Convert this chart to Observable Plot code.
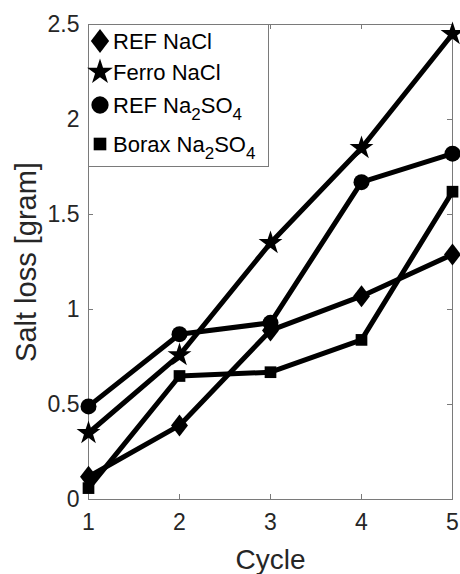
<!DOCTYPE html>
<html><head><meta charset="utf-8">
<script src="https://cdn.jsdelivr.net/npm/d3@7"></script>
<script src="https://cdn.jsdelivr.net/npm/@observablehq/plot@0.6"></script>
<style>html,body{margin:0;padding:0;background:#fff;}</style>
</head><body><div id="chart"></div>
<script>
// ---- data ----
const cycles = [1, 2, 3, 4, 5];
const refNaCl = [0.12, 0.39, 0.89, 1.07, 1.29];
const ferroNaCl = [0.35, 0.76, 1.35, 1.85, 2.45];
const refNa2SO4 = [0.49, 0.87, 0.93, 1.67, 1.82];
const boraxNa2SO4 = [0.06, 0.65, 0.67, 0.84, 1.62];
const seriesNames = ["REF NaCl", "Ferro NaCl", "REF Na2SO4", "Borax Na2SO4"];
const seriesSymbols = ["diamond", "star", "circle", "square"];
const xTicks = [1, 2, 3, 4, 5];
const xTickLabels = ["1", "2", "3", "4", "5"];
const yTicks = [0, 0.5, 1, 1.5, 2, 2.5];
const yTickLabels = ["0", "0.5", "1", "1.5", "2", "2.5"];
const xLabel = "Cycle";
const yLabel = "Salt loss [gram]";

// ---- styling ----
const W = 460, H = 574;
const M = {left: 88, right: 8, top: 24, bottom: 75};
const frameW = W - M.left - M.right, frameH = H - M.top - M.bottom;
const textColor = "#262626";
const axisColor = "#7a7a7a";
const font = "'Liberation Sans', Arial, Helvetica, sans-serif";
const symbolR = {diamond: 7.5, star: 7.5, circle: 8, square: 6.6};
const tickLen = 5;

// MATLAB-like diamond (wider than d3's)
const wideDiamond = {
  draw(context, size) {
    const r = Math.sqrt(size / Math.PI);
    const h = 1.47 * r, w = 1.13 * r;
    context.moveTo(0, -h); context.lineTo(w, 0); context.lineTo(0, h); context.lineTo(-w, 0); context.closePath();
  }
};
const symbolMap = {diamond: wideDiamond, star: d3.symbolStar, circle: d3.symbolCircle, square: d3.symbolSquare};

const allValues = [refNaCl, ferroNaCl, refNa2SO4, boraxNa2SO4];
const series = seriesNames.map((name, i) => ({
  name, symbol: seriesSymbols[i],
  data: cycles.map((c, j) => ({cycle: c, value: allValues[i][j], name}))
}));

const marks = [
  Plot.frame({stroke: axisColor, strokeWidth: 1}),
  // inward ticks on all four sides
  Plot.tickX(xTicks, {x: d => d, stroke: axisColor, insetTop: frameH - tickLen}),
  Plot.tickX(xTicks, {x: d => d, stroke: axisColor, insetBottom: frameH - tickLen}),
  Plot.tickY(yTicks, {y: d => d, stroke: axisColor, insetRight: frameW - tickLen}),
  Plot.tickY(yTicks, {y: d => d, stroke: axisColor, insetLeft: frameW - tickLen}),
  Plot.axisX({ticks: xTicks, tickSize: 0, tickPadding: 14, label: null, fontSize: 23, fill: textColor,
              tickFormat: d => xTickLabels[xTicks.indexOf(d)]}),
  Plot.axisY({ticks: yTicks, tickSize: 0, tickPadding: 9, label: null, fontSize: 23, fill: textColor,
              tickFormat: d => yTickLabels[yTicks.indexOf(d)]}),
  Plot.text([xLabel], {frameAnchor: "bottom", dy: 69, lineAnchor: "bottom", textAnchor: "middle", fontSize: 28, fill: textColor}),
  Plot.text([yLabel], {frameAnchor: "left", dx: -62, rotate: -90, lineAnchor: "middle", textAnchor: "middle", fontSize: 29, fill: textColor})
];
for (const s of series) {
  marks.push(Plot.line(s.data, {x: "cycle", y: "value", stroke: "black", strokeWidth: 5, strokeLinejoin: "miter"}));
  marks.push(Plot.dot(s.data, {x: "cycle", y: "value", symbol: () => symbolMap[s.symbol], fill: "black", stroke: "none", r: symbolR[s.symbol]}));
}

const chart = Plot.plot({
  width: W, height: H,
  marginLeft: M.left, marginRight: M.right, marginTop: M.top, marginBottom: M.bottom,
  style: {fontFamily: font, color: textColor, background: "white"},
  x: {domain: [1, 5]},
  y: {domain: [0, 2.5]},
  symbol: {type: "identity"},
  marks
});
document.getElementById("chart").appendChild(chart);

// ---- legend (inside plot, top-left) ----
const svg = d3.select(chart);
const lg = svg.append("g").attr("font-family", font).attr("fill", "black").attr("text-anchor", "start");
lg.append("rect").attr("x", M.left + 0.5).attr("y", M.top + 0.5).attr("width", 180).attr("height", 142)
  .attr("fill", "white").attr("stroke", axisColor).attr("stroke-width", 1);
const rowCenters = [41, 72, 105, 144];
series.forEach((s, i) => {
  const cy = rowCenters[i];
  const r = symbolR[s.symbol] * 1.08;
  lg.append("path").attr("transform", `translate(${M.left + 12},${cy})`)
    .attr("d", d3.symbol(symbolMap[s.symbol], Math.PI * r * r)());
  const t = lg.append("text").attr("x", M.left + 25).attr("y", cy + 8).attr("font-size", 22)
    .attr("text-anchor", "start").attr("fill", "black");
  // digits become subscripts
  const parts = s.name.match(/\d+|\D+/g);
  let sub = false;
  parts.forEach(p => {
    const isDigit = /^\d+$/.test(p);
    const ts = t.append("tspan").text(p);
    if (isDigit) { ts.attr("font-size", 17).attr("dy", 7); sub = true; }
    else if (sub) { ts.attr("dy", -7); sub = false; }
  });
});
</script>
</body></html>
